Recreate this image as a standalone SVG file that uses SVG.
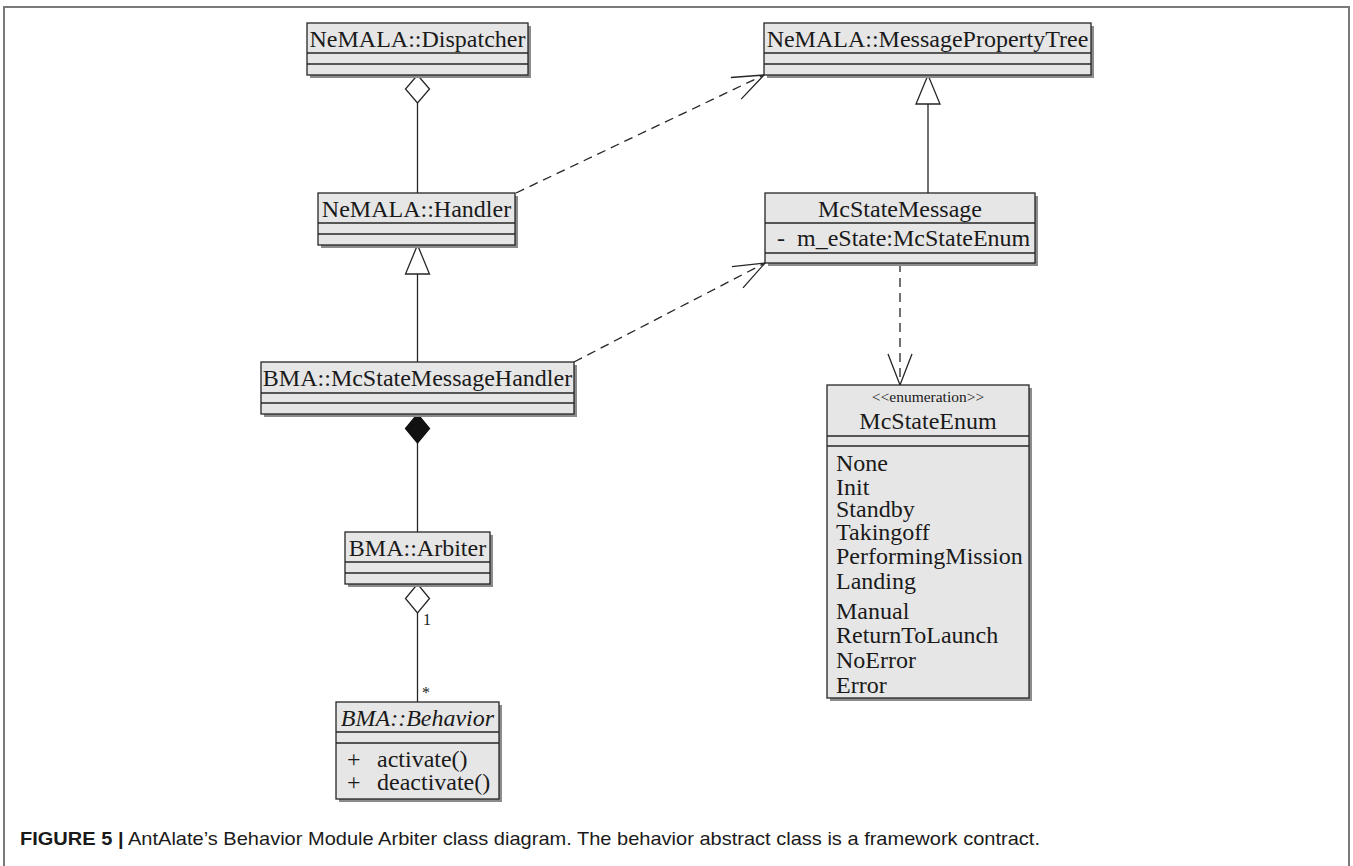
<svg xmlns="http://www.w3.org/2000/svg" width="1353" height="866" viewBox="0 0 1353 866">
  <style>
    .frame { stroke: #7a7a7a; stroke-width: 2; fill: none; }
    .box { fill: #e6e6e6; stroke: #262626; stroke-width: 1.3; }
    .shadow { fill: #8c8c8c; }
    .sep { stroke: #262626; stroke-width: 1.3; }
    .t { font-family: "Liberation Serif", "Times New Roman", serif; font-size: 24px; fill: #1a1a1a; }
    .c { text-anchor: middle; }
    .it { font-style: italic; }
    .stereo { font-family: "Liberation Serif", "Times New Roman", serif; font-size: 15.5px; fill: #1a1a1a; text-anchor: middle; }
    .mult { font-family: "Liberation Serif", "Times New Roman", serif; font-size: 16px; fill: #1a1a1a; }
    .line { stroke: #262626; stroke-width: 1.3; fill: none; }
    .dash { stroke: #262626; stroke-width: 1.3; fill: none; stroke-dasharray: 9 6; }
    .hollow { fill: #ffffff; stroke: #262626; stroke-width: 1.3; }
    .solid { fill: #111111; stroke: #111111; stroke-width: 1.3; }
    .caption { font-family: "Liberation Sans", Arial, sans-serif; font-size: 19px; fill: #1a1a1a; }
  </style>
  <defs>
    <marker id="open" markerUnits="userSpaceOnUse" markerWidth="40" markerHeight="30" viewBox="-36 -15 40 30" refX="0" refY="0" orient="auto" overflow="visible">
      <path d="M-31,-12 L0,0 L-31,12" fill="none" stroke="#262626" stroke-width="1.3" stroke-dasharray="none"/>
    </marker>
  </defs>

  <rect width="1353" height="866" fill="#ffffff"/>
  <!-- figure frame (open at the bottom) -->
  <path class="frame" d="M4,866 V7 H1349 V866"/>

  <!-- connectors -->
  <g id="connectors">
    <!-- Dispatcher <>— Handler (aggregation) -->
    <line class="line" x1="417.5" y1="103" x2="417.5" y2="193"/>
    <polygon class="hollow" points="417.5,75 429.5,89 417.5,103 405.5,89"/>
    <!-- Handler - - > MessagePropertyTree (dependency) -->
    <line class="dash" x1="516" y1="193" x2="764" y2="75" marker-end="url(#open)"/>
    <!-- McStateMessage —|> MessagePropertyTree (generalization) -->
    <line class="line" x1="928" y1="104" x2="928" y2="193"/>
    <polygon class="hollow" points="928,75 940,104 916,104"/>
    <!-- McStateMessageHandler —|> Handler (generalization) -->
    <line class="line" x1="417.5" y1="274" x2="417.5" y2="362"/>
    <polygon class="hollow" points="417.5,245 429.5,274 405.5,274"/>
    <!-- McStateMessageHandler - - > McStateMessage (dependency) -->
    <line class="dash" x1="574" y1="362" x2="765" y2="263" marker-end="url(#open)"/>
    <!-- McStateMessage - - > McStateEnum (dependency) -->
    <line class="dash" x1="900" y1="263" x2="900" y2="385" marker-end="url(#open)"/>
    <!-- McStateMessageHandler <#>— Arbiter (composition) -->
    <line class="line" x1="417.5" y1="443" x2="417.5" y2="532"/>
    <polygon class="solid" points="417.5,414 429.5,428.5 417.5,443 405.5,428.5"/>
    <!-- Arbiter <>— Behavior (aggregation, 1 to many) -->
    <line class="line" x1="417.5" y1="613" x2="417.5" y2="702"/>
    <polygon class="hollow" points="417.5,584 429.5,598.5 417.5,613 405.5,598.5"/>
    <text class="mult" x="423" y="625">1</text>
    <text class="mult" x="422" y="698">*</text>
  </g>

  <!-- NeMALA::Dispatcher -->
  <g id="dispatcher">
    <rect class="shadow" x="310" y="26" width="221" height="52"/>
    <rect class="box" x="307" y="23" width="221" height="52"/>
    <line class="sep" x1="307" y1="53" x2="528" y2="53"/>
    <line class="sep" x1="307" y1="64" x2="528" y2="64"/>
    <text class="t c" x="417.5" y="47">NeMALA::Dispatcher</text>
  </g>

  <!-- NeMALA::MessagePropertyTree -->
  <g id="message-property-tree">
    <rect class="shadow" x="767" y="26" width="327" height="52"/>
    <rect class="box" x="764" y="23" width="327" height="52"/>
    <line class="sep" x1="764" y1="53" x2="1091" y2="53"/>
    <line class="sep" x1="764" y1="64" x2="1091" y2="64"/>
    <text class="t c" x="927.5" y="47">NeMALA::MessagePropertyTree</text>
  </g>

  <!-- NeMALA::Handler -->
  <g id="handler">
    <rect class="shadow" x="321" y="196" width="197" height="52"/>
    <rect class="box" x="318" y="193" width="197" height="52"/>
    <line class="sep" x1="318" y1="223" x2="515" y2="223"/>
    <line class="sep" x1="318" y1="234" x2="515" y2="234"/>
    <text class="t c" x="416.5" y="217">NeMALA::Handler</text>
  </g>

  <!-- McStateMessage -->
  <g id="mc-state-message">
    <rect class="shadow" x="768" y="196" width="270" height="70"/>
    <rect class="box" x="765" y="193" width="270" height="70"/>
    <line class="sep" x1="765" y1="223" x2="1035" y2="223"/>
    <line class="sep" x1="765" y1="253" x2="1035" y2="253"/>
    <text class="t c" x="900" y="217">McStateMessage</text>
    <text class="t"><tspan x="777" y="246">-</tspan><tspan x="797" y="246">m_eState:McStateEnum</tspan></text>
  </g>

  <!-- BMA::McStateMessageHandler -->
  <g id="mc-state-message-handler">
    <rect class="shadow" x="264" y="365" width="313" height="52"/>
    <rect class="box" x="261" y="362" width="313" height="52"/>
    <line class="sep" x1="261" y1="393" x2="574" y2="393"/>
    <line class="sep" x1="261" y1="403" x2="574" y2="403"/>
    <text class="t c" x="417.5" y="386">BMA::McStateMessageHandler</text>
  </g>

  <!-- McStateEnum -->
  <g id="mc-state-enum">
    <rect class="shadow" x="830" y="388" width="202" height="313"/>
    <rect class="box" x="827" y="385" width="202" height="313"/>
    <line class="sep" x1="827" y1="436" x2="1029" y2="436"/>
    <line class="sep" x1="827" y1="446" x2="1029" y2="446"/>
    <text class="stereo" x="928" y="402">&lt;&lt;enumeration&gt;&gt;</text>
    <text class="t c" x="928" y="429">McStateEnum</text>
    <text class="t" x="836" y="471">None</text>
    <text class="t" x="836" y="495">Init</text>
    <text class="t" x="836" y="517">Standby</text>
    <text class="t" x="836" y="540">Takingoff</text>
    <text class="t" x="836" y="564">PerformingMission</text>
    <text class="t" x="836" y="589">Landing</text>
    <text class="t" x="836" y="619">Manual</text>
    <text class="t" x="836" y="643">ReturnToLaunch</text>
    <text class="t" x="836" y="668">NoError</text>
    <text class="t" x="836" y="693">Error</text>
  </g>

  <!-- BMA::Arbiter -->
  <g id="arbiter">
    <rect class="shadow" x="348" y="535" width="145" height="52"/>
    <rect class="box" x="345" y="532" width="145" height="52"/>
    <line class="sep" x1="345" y1="562" x2="490" y2="562"/>
    <line class="sep" x1="345" y1="573" x2="490" y2="573"/>
    <text class="t c" x="417.5" y="556">BMA::Arbiter</text>
  </g>

  <!-- BMA::Behavior (abstract) -->
  <g id="behavior">
    <rect class="shadow" x="339" y="705" width="163" height="97"/>
    <rect class="box" x="336" y="702" width="163" height="97"/>
    <line class="sep" x1="336" y1="732" x2="499" y2="732"/>
    <line class="sep" x1="336" y1="743" x2="499" y2="743"/>
    <text class="t c it" x="417.5" y="726">BMA::Behavior</text>
    <text class="t"><tspan x="347" y="767">+</tspan><tspan x="377" y="767">activate()</tspan></text>
    <text class="t"><tspan x="347" y="790">+</tspan><tspan x="377" y="790">deactivate()</tspan></text>
  </g>

  <!-- caption -->
  <text class="caption" x="20" y="845" textLength="1020" lengthAdjust="spacingAndGlyphs"><tspan font-weight="bold">FIGURE 5 |</tspan> AntAlate’s Behavior Module Arbiter class diagram. The behavior abstract class is a framework contract.</text>
</svg>
